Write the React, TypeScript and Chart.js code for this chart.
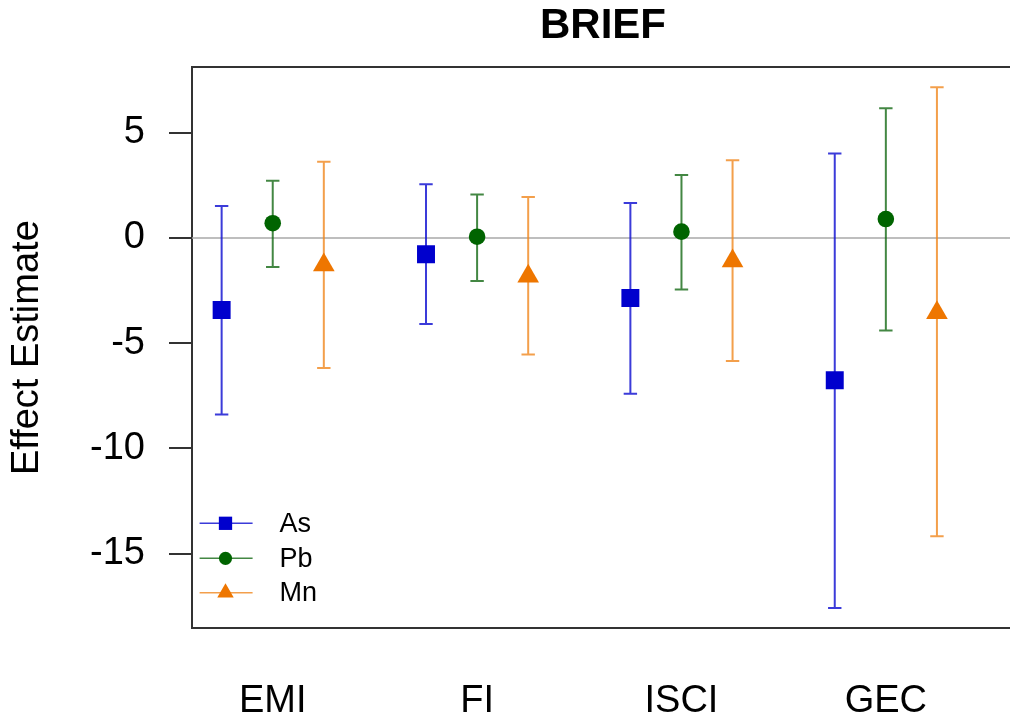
import { useEffect, useRef } from 'react';
import { Chart, registerables } from 'chart.js';

Chart.register(...registerables);

const TITLE = 'BRIEF';
const Y_TITLE = 'Effect Estimate';
const categories = ['EMI', 'FI', 'ISCI', 'GEC'];
const seriesNames = ['As', 'Pb', 'Mn'];

const asEst = [-3.42, -0.77, -2.85, -6.76];
const asLo = [-8.38, -4.09, -7.4, -17.58];
const asHi = [1.52, 2.55, 1.66, 4.01];

const pbEst = [0.7, 0.06, 0.3, 0.9];
const pbLo = [-1.38, -2.04, -2.45, -4.4];
const pbHi = [2.72, 2.07, 2.99, 6.16];

const mnEst = [-1.28, -1.82, -1.1, -3.55];
const mnLo = [-6.18, -5.53, -5.84, -14.17];
const mnHi = [3.62, 1.95, 3.69, 7.16];

const yTicks = [-15, -10, -5, 0, 5];

const FONT = '"Liberation Sans", Arial, Helvetica, sans-serif';
const markerColors = ['#0000CD', '#006400', '#EE7600'];
const barColors = ['rgba(25,25,210,0.85)', 'rgba(20,105,20,0.8)', 'rgba(240,135,30,0.8)'];
const pointStyles = ['rect', 'circle', 'triangle'];
const pointRadii = [12.7, 8.3, 12.5];
const legendRadii = [9.4, 6.6, 9.5];

const estimates = [asEst, pbEst, mnEst];
const lows = [asLo, pbLo, mnLo];
const highs = [asHi, pbHi, mnHi];

const categoryPositions = categories.map((_, g) => g * 4 + 2);

function drawMarker(ctx: CanvasRenderingContext2D, style: string, x: number, y: number, r: number) {
  ctx.beginPath();
  if (style === 'rect') {
    const s = Math.SQRT1_2 * r;
    ctx.rect(x - s, y - s, 2 * s, 2 * s);
  } else if (style === 'circle') {
    ctx.arc(x, y, r, 0, Math.PI * 2);
  } else {
    ctx.moveTo(x, y - r);
    ctx.lineTo(x + Math.sin(Math.PI / 3) * r, y + r / 2);
    ctx.lineTo(x - Math.sin(Math.PI / 3) * r, y + r / 2);
    ctx.closePath();
  }
  ctx.fill();
}

const decorPlugin = {
  id: 'decor',
  beforeDatasetsDraw(chart: any) {
    const { ctx, chartArea, scales } = chart;
    const xs = scales.x;
    const ys = scales.y;
    ctx.save();
    const y0 = ys.getPixelForValue(0);
    ctx.strokeStyle = '#a8a8a8';
    ctx.lineWidth = 1.5;
    ctx.beginPath();
    ctx.moveTo(chartArea.left, y0);
    ctx.lineTo(chartArea.right, y0);
    ctx.stroke();

    chart.data.datasets.forEach((ds: any, i: number) => {
      ctx.strokeStyle = barColors[i];
      ctx.lineWidth = 2;
      ds.data.forEach((p: any, j: number) => {
        const px = xs.getPixelForValue(p.x);
        const pLo = ys.getPixelForValue(lows[i][j]);
        const pHi = ys.getPixelForValue(highs[i][j]);
        const cap = 6.7;
        ctx.beginPath();
        ctx.moveTo(px, pLo);
        ctx.lineTo(px, pHi);
        ctx.moveTo(px - cap, pLo);
        ctx.lineTo(px + cap, pLo);
        ctx.moveTo(px - cap, pHi);
        ctx.lineTo(px + cap, pHi);
        ctx.stroke();
      });
    });
    ctx.restore();
  },
  afterDraw(chart: any) {
    const { ctx, chartArea } = chart;
    ctx.save();
    // top border of plot box
    ctx.strokeStyle = '#333';
    ctx.lineWidth = 2;
    ctx.beginPath();
    ctx.moveTo(chartArea.left - 1, chartArea.top);
    ctx.lineTo(chartArea.right, chartArea.top);
    ctx.stroke();

    // title
    ctx.fillStyle = '#000';
    ctx.font = `bold 42px ${FONT}`;
    ctx.textAlign = 'center';
    ctx.textBaseline = 'middle';
    ctx.fillText(TITLE, (chartArea.left + chartArea.right) / 2 + 2, 26);

    // legend
    const rowOffsets = [105, 70, 35.6];
    seriesNames.forEach((name, i) => {
      const ly = chartArea.bottom - rowOffsets[i];
      ctx.strokeStyle = barColors[i];
      ctx.lineWidth = 1.6;
      ctx.beginPath();
      ctx.moveTo(chartArea.left + 7.6, ly);
      ctx.lineTo(chartArea.left + 60.6, ly);
      ctx.stroke();
      ctx.fillStyle = markerColors[i];
      drawMarker(ctx, pointStyles[i], chartArea.left + 33.5, ly, legendRadii[i]);
      ctx.fillStyle = '#000';
      ctx.font = `27px ${FONT}`;
      ctx.textAlign = 'left';
      ctx.textBaseline = 'middle';
      ctx.fillText(name, chartArea.left + 87.6, ly + 1);
    });
    ctx.restore();
  },
};

export default function App() {
  const ref = useRef<HTMLCanvasElement | null>(null);

  useEffect(() => {
    if (!ref.current) return;
    const datasets = seriesNames.map((name, s) => ({
      label: name,
      data: estimates[s].map((v, g) => ({ x: g * 4 + s + 1, y: v })),
      pointStyle: pointStyles[s],
      pointRadius: pointRadii[s],
      pointHoverRadius: pointRadii[s],
      pointBackgroundColor: markerColors[s],
      pointBorderColor: markerColors[s],
      pointBorderWidth: 0,
      showLine: false,
    }));

    const chart = new Chart(ref.current, {
      type: 'scatter',
      data: { datasets },
      plugins: [decorPlugin],
      options: {
        animation: false,
        responsive: false,
        maintainAspectRatio: false,
        devicePixelRatio: 1,
        events: [],
        layout: { autoPadding: false, padding: { top: 67, left: 0, right: 0, bottom: 0 } },
        plugins: {
          legend: { display: false },
          title: { display: false },
          tooltip: { enabled: false },
        },
        scales: {
          x: {
            type: 'linear',
            min: 0.42,
            max: 16.43,
            afterFit: (s: any) => {
              s.height = 94.7;
            },
            afterBuildTicks: (s: any) => {
              s.ticks = categoryPositions.map((v) => ({ value: v }));
            },
            ticks: {
              font: { family: FONT, size: 38 },
              color: '#000',
              padding: 50,
              autoSkip: false,
              maxRotation: 0,
              callback: (_v: any, i: number) => categories[i],
            },
            grid: { display: false, drawTicks: false },
            border: { display: true, color: '#333', width: 2 },
          },
          y: {
            type: 'linear',
            min: -18.54,
            max: 8.12,
            afterFit: (s: any) => {
              s.width = 192;
            },
            afterBuildTicks: (s: any) => {
              s.ticks = yTicks.map((v) => ({ value: v }));
            },
            ticks: {
              font: { family: FONT, size: 38 },
              color: '#000',
              padding: 24,
              callback: (v: any) => String(v),
            },
            grid: {
              drawOnChartArea: false,
              drawTicks: true,
              tickLength: 23,
              color: '#333',
              lineWidth: 2,
            },
            border: { display: true, color: '#333', width: 2 },
            title: {
              display: true,
              text: Y_TITLE,
              font: { family: FONT, size: 38 },
              color: '#000',
              padding: { top: 5, bottom: 0 },
            },
          },
        },
      } as any,
    });
    return () => chart.destroy();
  }, []);

  return (
    <div style={{ position: 'fixed', left: 0, top: 0, width: 1010, height: 723, background: '#fff' }}>
      <canvas ref={ref} width={1010} height={723} style={{ display: 'block' }} />
    </div>
  );
}
